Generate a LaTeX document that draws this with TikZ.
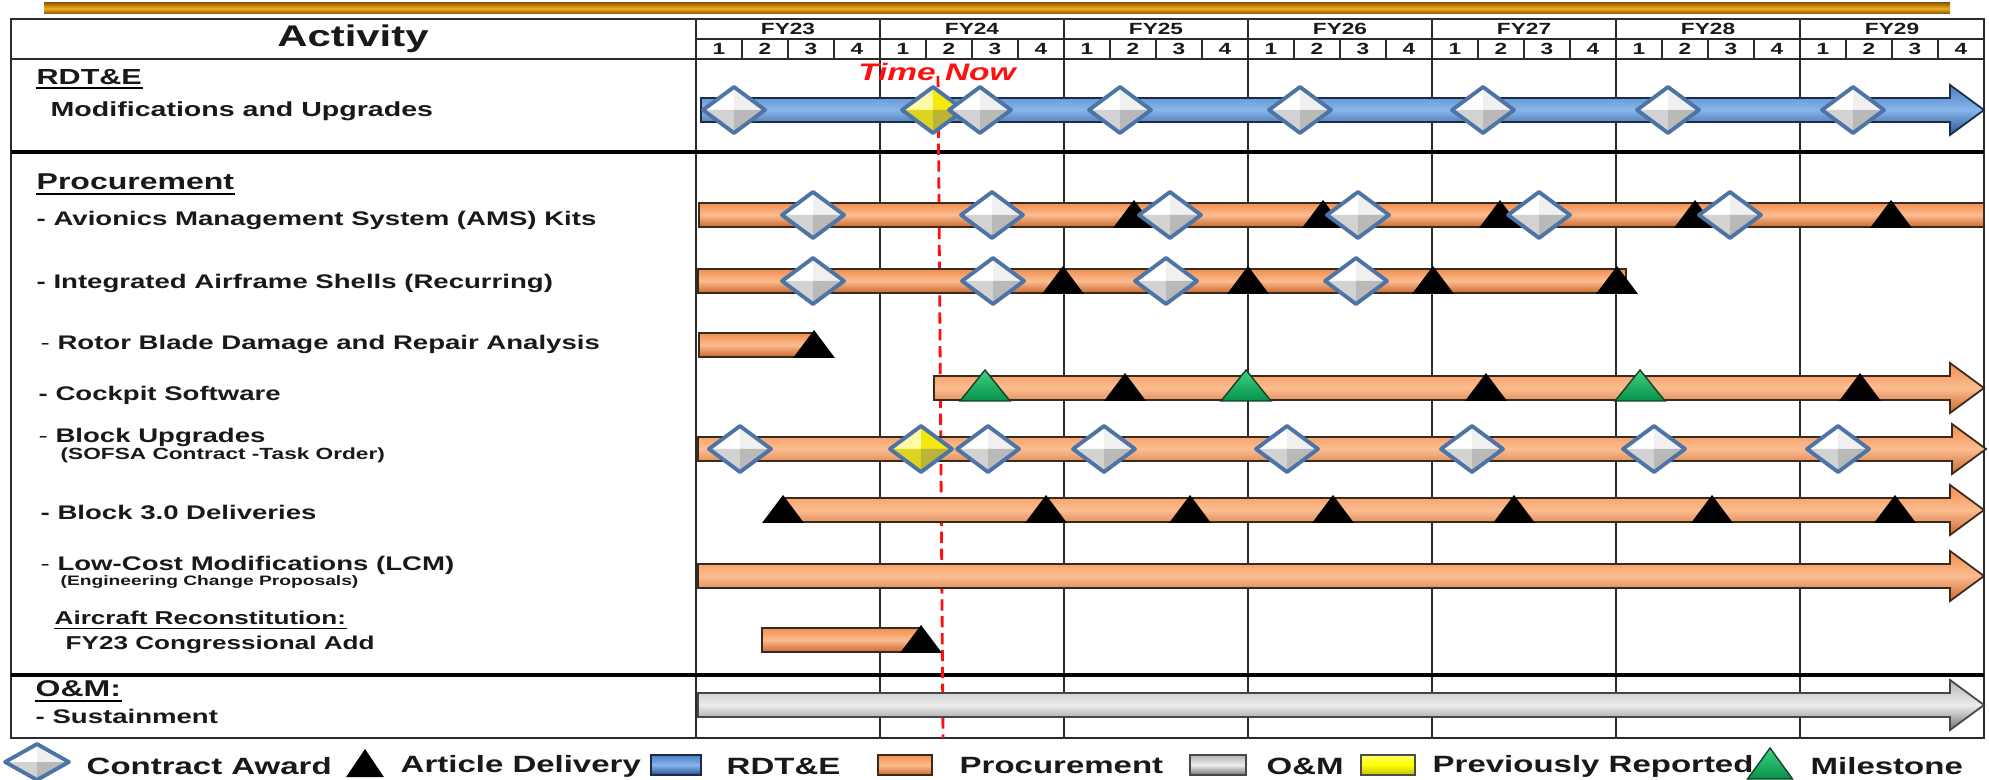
\documentclass[tikz,border=0pt]{standalone}
\usepackage{fontspec}
\setmainfont[FakeStretch=1.4]{Liberation Sans}
\usetikzlibrary{shapes, arrows, positioning, shapes.geometric, calc}

\definecolor{gridline}{HTML}{2B2B2B}
\definecolor{awardedge}{HTML}{4C74A6}
\definecolor{rdtdark}{HTML}{4A7FC4}
\definecolor{rdtlight}{HTML}{88B6EC}
\definecolor{rdtlow}{HTML}{27508C}
\definecolor{rdtedge}{HTML}{1B2C44}
\definecolor{proctop}{HTML}{F28E4E}
\definecolor{proclight}{HTML}{FCBC90}
\definecolor{procdark}{HTML}{C9692F}
\definecolor{procedge}{HTML}{3A2A1E}
\definecolor{omtop}{HTML}{B4B4B4}
\definecolor{omlight}{HTML}{EDEDED}
\definecolor{omdark}{HTML}{727272}
\definecolor{omedge}{HTML}{474747}
\definecolor{golddark}{HTML}{946208}
\definecolor{goldmid}{HTML}{F7AC1E}
\definecolor{msgreen}{HTML}{08904A}
\definecolor{msgreenlt}{HTML}{3ED383}
\definecolor{msedge}{HTML}{173F24}
\definecolor{nowred}{HTML}{FF1010}

% long bar ending in an arrow head: style, start x, tip x, centre y
\newcommand{\arrowbar}[4]{%
  \path[#1] (#2,#4-12) -- (#3-34,#4-12) -- (#3-34,#4-25) -- (#3,#4)
    -- (#3-34,#4+25) -- (#3-34,#4+12) -- (#2,#4+12) -- cycle;}
% bar with a flat end: style, start x, end x, centre y
\newcommand{\flatbar}[4]{\path[#1] (#2,#4-12) rectangle (#3,#4+12);}

\tikzset{
  award/.pic={
    \fill[white] (-31,0) -- (0,-23) -- (0,0) -- cycle;
    \fill[gray!12] (0,-23) -- (31,0) -- (0,0) -- cycle;
    \fill[gray!35] (-31,0) -- (0,23) -- (0,0) -- cycle;
    \fill[gray!55] (0,23) -- (31,0) -- (0,0) -- cycle;
    \draw[awardedge, line width=1.1pt, line join=round] (-31,0) -- (0,-23) -- (31,0) -- (0,23) -- cycle;},
  oldaward/.pic={
    \fill[yellow!35] (-31,0) -- (0,-23) -- (0,0) -- cycle;
    \fill[yellow!95!black] (0,-23) -- (31,0) -- (0,0) -- cycle;
    \fill[yellow!85!black] (-31,0) -- (0,23) -- (0,0) -- cycle;
    \fill[yellow!70!black] (0,23) -- (31,0) -- (0,0) -- cycle;
    \draw[awardedge, line width=1.1pt, line join=round] (-31,0) -- (0,-23) -- (31,0) -- (0,23) -- cycle;},
  delivery/.pic={\fill[black] (-21,0) -- (0,-28) -- (21,0) -- cycle;},
  milestone/.pic={\path[top color=msgreenlt, bottom color=msgreen, draw=msedge, line width=0.4pt]
    (-25,0) -- (0,-31) -- (25,0) -- cycle;},
}

\begin{document}
\begin{tikzpicture}[x=0.01cm, y=-0.01cm, every node/.style={inner sep=0pt, text=black!90}]
\tikzstyle{grid} = [draw=gridline, line width=0.5pt]
\tikzstyle{section} = [draw=black, line width=1pt]
\tikzstyle{rdtbar} = [top color=rdtdark, bottom color=rdtlow, middle color=rdtlight, draw=rdtedge, line width=0.5pt]
\tikzstyle{procbar} = [top color=proctop, bottom color=procdark, middle color=proclight, draw=procedge, line width=0.5pt]
\tikzstyle{ombar} = [top color=omtop, bottom color=omdark, middle color=omlight, draw=omedge, line width=0.5pt]
\tikzstyle{hdr} = [font=\bfseries\fontsize{4.6}{5}\selectfont]
\tikzstyle{item} = [anchor=west, font=\bfseries\fontsize{5.6}{6}\selectfont]
\tikzstyle{note} = [anchor=west, font=\bfseries\fontsize{4.6}{5}\selectfont]
\tikzstyle{head} = [anchor=west, font=\bfseries\fontsize{6.5}{7}\selectfont]
\tikzstyle{key} = [anchor=west, font=\bfseries\fontsize{6.7}{7}\selectfont]
\useasboundingbox (0,0) rectangle (1989,780);

% gold rule over the chart
\path[top color=golddark, bottom color=golddark!85!black, middle color=goldmid] (44,3) rectangle (1950,14);

% table
\draw[grid] (11,19) rectangle (1984,738);
\draw[grid] (696,19) -- (696,738);
\draw[grid] (696,39) -- (1984,39);
\draw[grid] (11,59) -- (1984,59);
\foreach \q in {1,...,27} \draw[grid, line width=0.35pt] (696+46*\q,39) -- (696+46*\q,59);
\foreach \y in {1,...,6} \draw[grid] (696+184*\y,19) -- (696+184*\y,738);
\draw[section] (11,152) -- (1984,152);
\draw[section] (11,675) -- (1984,675);

\node[font=\bfseries\fontsize{8.5}{9}\selectfont] (act) at (353,39) {Activity};
\foreach \y [count=\i from 0] in {23,...,29} {
  \node[hdr] (fy\y) at (788+184*\i,29) {FY\y};
  \foreach \q in {1,...,4}
    \node[hdr] (q\y-\q) at (673+184*\i+46*\q,49) {\q};
}

% time now
\draw[nowred, line width=0.8pt, dash pattern=on 3.2pt off 1.6pt] (938,76) -- (943,738);
\node[font=\bfseries\itshape\fontsize{6.8}{7}\selectfont, text=nowred] (now) at (937,72) {Time Now};

% activity labels
\node[head, font=\bfseries\fontsize{6.2}{7}\selectfont] (rdte) at (36,77) {RDT\&E};
\node[item, font=\bfseries\fontsize{5.8}{6}\selectfont] (mods) at (50,111) {Modifications and Upgrades};
\node[head] (proc) at (36,182) {Procurement};
\node[item] (ams) at (36,220) {- Avionics Management System (AMS) Kits};
\node[item] (ias) at (36,283) {- Integrated Airframe Shells (Recurring)};
\node[item] (rotor) at (40,344) {{\mdseries -} Rotor Blade Damage and Repair Analysis};
\node[item] (cockpit) at (38,395) {- Cockpit Software};
\node[item] (blkup) at (38,437) {{\mdseries -} Block Upgrades};
\node[note] (sofsa) at (60,455) {(SOFSA Contract -Task Order)};
\node[item] (blk3) at (40,512) {- Block 3.0 Deliveries};
\node[item] (lcm) at (40,565) {{\mdseries -} Low-Cost Modifications (LCM)};
\node[note, font=\bfseries\fontsize{3.9}{4}\selectfont] (ecp) at (60,582) {(Engineering Change Proposals)};
\node[item, font=\bfseries\fontsize{5.3}{6}\selectfont] (recon) at (54,618) {Aircraft Reconstitution:};
\node[item, font=\bfseries\fontsize{5.3}{6}\selectfont] (cadd) at (65,645) {FY23 Congressional Add};
\node[head] (om) at (35,689) {O\&M:};
\node[item] (sust) at (35,716) {- Sustainment};
\foreach \n in {rdte, proc, recon, om}
  \draw[line width=0.55pt] ([yshift=-1.1pt]\n.base west) -- ([yshift=-1.1pt]\n.base east);

% bars
\arrowbar{rdtbar}{701}{1984}{110}
\flatbar{procbar}{699}{1984}{215}
\flatbar{procbar}{698}{1626}{281}
\flatbar{procbar}{699}{812}{345}
\arrowbar{procbar}{934}{1984}{388}
\arrowbar{procbar}{698}{1986}{449}
\arrowbar{procbar}{783}{1984}{510}
\arrowbar{procbar}{698}{1984}{576}
\flatbar{procbar}{762}{921}{640}
\arrowbar{ombar}{698}{1984}{705}

% RDT&E events
\pic at (933,110) {oldaward};
\foreach \x in {734,980,1120,1300,1483,1668,1853} \pic at (\x,110) {award};
% AMS kits
\foreach \x in {1134,1323,1500,1695,1891} \pic at (\x,228) {delivery};
\foreach \x in {813,992,1170,1358,1539,1730} \pic at (\x,215) {award};
% airframe shells
\foreach \x in {1063,1248,1433,1617} \pic at (\x,294) {delivery};
\foreach \x in {813,993,1166,1356} \pic at (\x,281) {award};
% rotor blade
\pic at (814,358) {delivery};
% cockpit software
\foreach \x in {1125,1486,1860} \pic at (\x,401) {delivery};
\foreach \x in {985,1246,1640} \pic at (\x,401) {milestone};
% block upgrades
\pic at (921,449) {oldaward};
\foreach \x in {740,988,1104,1287,1472,1654,1838} \pic at (\x,449) {award};
% block 3.0
\foreach \x in {783,1046,1190,1333,1514,1712,1895} \pic at (\x,523) {delivery};
% reconstitution
\pic at (921,653) {delivery};

% legend
\pic[xscale=1.03, yscale=0.78] at (37,762) {award};
\node[key] (kaward) at (86,766) {Contract Award};
\pic[xscale=0.9] at (365,777) {delivery};
\node[key] (kdel) at (400,766) {Article Delivery};
\path[rdtbar] (651,755) rectangle (701,775);
\node[key] (krdt) at (726,766) {RDT\&E};
\path[procbar] (878,755) rectangle (932,775);
\node[key] (kproc) at (959,766) {Procurement};
\path[ombar] (1190,755) rectangle (1246,775);
\node[key] (kom) at (1266,766) {O\&M};
\path[top color=yellow!60, bottom color=yellow!75!black, middle color=yellow, draw=black!70, line width=0.5pt] (1361,755) rectangle (1415,775);
\node[key] (kprev) at (1432,766) {Previously Reported};
\pic[xscale=0.9] at (1770,779) {milestone};
\node[key] (kms) at (1810,766) {Milestone};
\end{tikzpicture}
\end{document}
